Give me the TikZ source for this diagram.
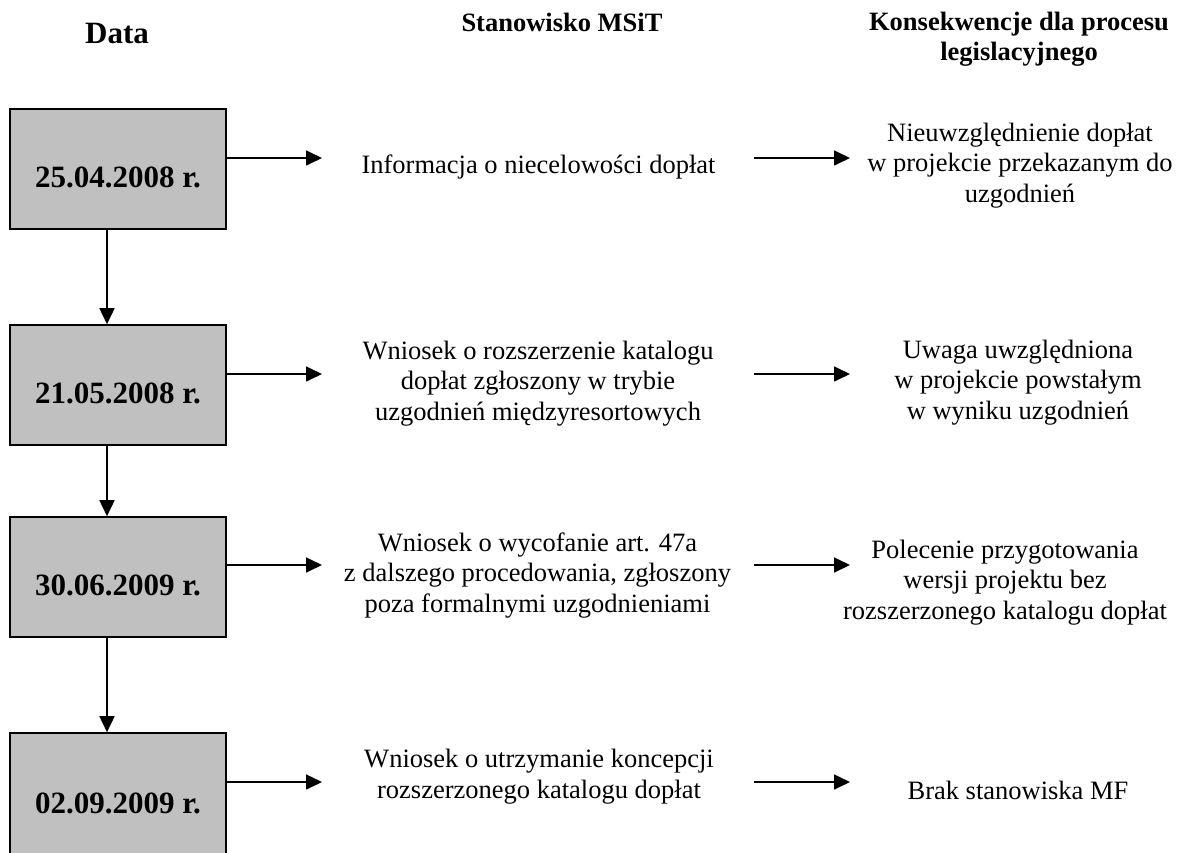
\documentclass[tikz,border=0pt]{standalone}
\usepackage{fontspec}
\setmainfont{Liberation Serif}
\usetikzlibrary{arrows.meta}

\definecolor{boxgray}{HTML}{C0C0C0}

\tikzset{
  datebox/.style={draw=black, line width=1.6pt, fill=boxgray, rectangle,
    minimum width=216pt, minimum height=120pt, inner sep=0pt,
    text height=36pt, text depth=0pt,
    font=\fontsize{31}{36}\selectfont\bfseries},
  head/.style={anchor=base, align=center, inner sep=0pt,
    font=\fontsize{26.5}{30}\selectfont\bfseries},
  datehead/.style={anchor=base, inner sep=0pt,
    font=\fontsize{31}{36}\selectfont\bfseries},
  % multi-line texts are placed by the baseline of their last line
  body/.style={anchor=base, align=center, inner sep=0pt,
    font=\fontsize{26.5}{30.5}\selectfont},
  arr/.style={line width=1.6pt, -{Triangle[length=16pt, width=15pt]}},
}

\begin{document}
\begin{tikzpicture}[x=1pt, y=-1pt]
\useasboundingbox (0,0) rectangle (1182,852);

% column headings
\node[datehead] (hdata) at (117,43) {Data};
\node[head] (hmsit) at (562,31) {Stanowisko MSiT};
\node[head] (hkons) at (1019,60) {Konsekwencje dla procesu\\legislacyjnego};

% timeline of dates
\node[datebox] (b1) at (118,169) {25.04.2008 r.};
\node[datebox] (b2) at (118,385) {21.05.2008 r.};
\node[datebox] (b3) at (118,577) {30.06.2009 r.};
\node[datebox, minimum height=124pt] (b4) at (118,795) {02.09.2009 r.};

\foreach \a/\b in {b1/b2, b2/b3, b3/b4}
  \draw[arr] ([xshift=-11pt]\a.south) -- ([xshift=-11pt]\b.north);

% ministry positions
\node[body] (m1) at (538.5,173) {Informacja o niecelowości dopłat};
\node[body] (m2) at (538,420) {Wniosek o rozszerzenie katalogu\\dopłat zgłoszony w trybie\\uzgodnień międzyresortowych};
\node[body] (m3) at (537.5,612) {Wniosek o wycofanie art. 47a\\z dalszego procedowania, zgłoszony\\poza formalnymi uzgodnieniami};
\node[body] (m4) at (539,798) {Wniosek o utrzymanie koncepcji\\rozszerzonego katalogu dopłat};

% consequences
\node[body] (r1) at (1020,202) {Nieuwzględnienie dopłat\\w projekcie przekazanym do\\uzgodnień};
\node[body] (r2) at (1018,419) {Uwaga uwzględniona\\w projekcie powstałym\\w wyniku uzgodnień};
\node[body] (r3) at (1005,619) {Polecenie przygotowania\\wersji projektu bez\\rozszerzonego katalogu dopłat};
\node[body] (r4) at (1018,799) {Brak stanowiska MF};

% arrow end points
\foreach \i/\y in {1/158, 2/374, 3/565, 4/782} {
  \coordinate (a\i) at (322,\y);
  \coordinate (s\i) at (754,\y);
  \coordinate (e\i) at (850,\y);
  \draw[arr] (b\i.east |- a\i) -- (a\i);
  \draw[arr] (s\i) -- (e\i);
}
\end{tikzpicture}
\end{document}
